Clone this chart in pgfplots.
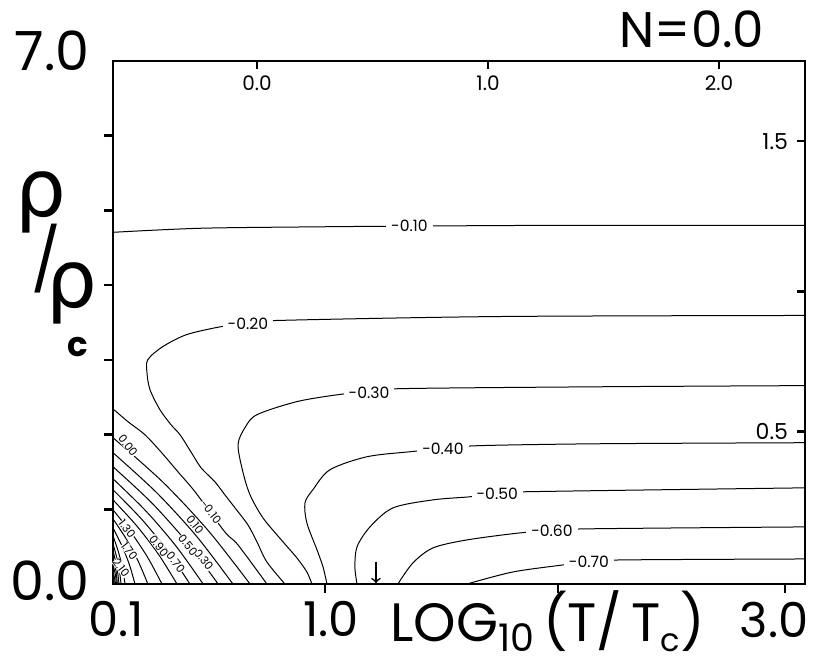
\documentclass[border=0pt]{standalone}
\usepackage{fontspec}
\setmainfont{Poppins}
\newfontfamily\greekfont{DejaVu Sans}
\usepackage{pgfplots}
\pgfplotsset{compat=1.18}

\tikzset{
  cl/.style={black, line width=0.5pt, smooth, tension=0.5},
  lbl/.style={font=\fontsize{7.8}{9}\selectfont, fill=white, inner xsep=2.5pt, inner ysep=0.5pt},
  sl/.style={font=\fontsize{5.6}{6}\selectfont, fill=white, inner sep=0.1pt, rotate=-52},
}

\begin{document}
\begin{tikzpicture}
\pgfplotsset{
  frame/.style={width=346pt, height=261.5pt, scale only axis,
    xmin=-0.623, xmax=2.372, ymin=0, ymax=7, clip=false},
}
% main box: contours, bottom/left ticks
\begin{axis}[frame,
  axis line style={line width=0.8pt},
  xtick={0.294,1.303,2.286}, xticklabels={},
  ytick={1,2,3,4,5,6}, yticklabels={},
  tick pos=left, tick align=outside,
  major tick length=4.5pt,
  tick style={line width=1.3pt, black},
]
\coordinate (SW) at (rel axis cs:0,0);
\coordinate (NE) at (rel axis cs:1,1);

% upper contours
\addplot[cl] coordinates {(-0.623,4.707) (-0.247,4.761) (0.25,4.78) (0.66,4.79) (1.3,4.80) (2.372,4.801)};
\addplot[cl] coordinates {(2.372,3.594) (1.052,3.580) (0.087,3.527) (-0.039,3.49) (-0.152,3.446) (-0.303,3.339) (-0.407,3.178) (-0.472,3.004) (-0.476,2.830) (-0.463,2.602) (-0.420,2.333) (-0.372,2.132) (-0.333,1.998) (-0.286,1.770) (-0.242,1.556) (-0.182,1.368) (-0.139,1.194) (-0.095,1.019) (-0.039,0.791) (0,0.563) (0.043,0.295) (0.121,0)};
\addplot[cl] coordinates {(2.372,2.655) (1.5,2.64) (0.632,2.615) (0.485,2.575) (0.351,2.534) (0.173,2.441) (0,2.266) (-0.052,2.092) (-0.082,1.864) (-0.061,1.502) (-0.030,1.194) (0.026,0.885) (0.113,0.563) (0.173,0.349) (0.216,0.161) (0.238,0)};
\addplot[cl] coordinates {(2.372,1.891) (1.485,1.877) (0.957,1.851) (0.805,1.81) (0.662,1.770) (0.476,1.703) (0.316,1.529) (0.242,1.261) (0.208,1.086) (0.216,0.818) (0.260,0.456) (0.286,0.228) (0.303,0)};
\addplot[cl] coordinates {(2.372,1.287) (1.152,1.234) (1.04,1.207) (0.922,1.167) (0.762,1.126) (0.589,1.019) (0.489,0.764) (0.433,0.496) (0.424,0.228) (0.433,0)};
\addplot[cl] coordinates {(2.372,0.764) (1.429,0.738) (1.277,0.711) (1.139,0.684) (0.909,0.590) (0.762,0.483) (0.675,0.282) (0.610,0)};
\addplot[cl] coordinates {(2.372,0.335) (1.580,0.322) (1.437,0.295) (1.325,0.255) (1.108,0.161) (0.909,0)};

% lower-left family
\addplot[cl] coordinates {(-0.619,2.333) (-0.558,2.172) (-0.485,1.998) (-0.416,1.770) (-0.342,1.502) (-0.268,1.234) (-0.139,0.697) (-0.082,0.523) (0.043,0)};
\addplot[cl] coordinates {(-0.623,1.958) (-0.406,1.360) (-0.209,0.708) (-0.030,0)};
\addplot[cl] coordinates {(-0.623,1.757) (-0.433,1.219) (-0.260,0.634) (-0.104,0)};
\addplot[cl] coordinates {(-0.623,1.569) (-0.456,1.088) (-0.305,0.565) (-0.168,0)};
\addplot[cl] coordinates {(-0.623,1.408) (-0.480,0.975) (-0.350,0.506) (-0.233,0)};
\addplot[cl] coordinates {(-0.623,1.261) (-0.500,0.871) (-0.389,0.451) (-0.290,0)};
\addplot[cl] coordinates {(-0.623,1.126) (-0.520,0.777) (-0.427,0.401) (-0.346,0)};
\addplot[cl] coordinates {(-0.623,0.992) (-0.543,0.681) (-0.472,0.351) (-0.411,0)};
\addplot[cl] coordinates {(-0.623,0.872) (-0.564,0.595) (-0.514,0.305) (-0.472,0)};
\addplot[cl] coordinates {(-0.623,0.751) (-0.584,0.509) (-0.552,0.259) (-0.528,0)};
\addplot[cl] coordinates {(-0.623,0.644) (-0.600,0.434) (-0.582,0.219) (-0.571,0)};
\addplot[cl] coordinates {(-0.623,0.536) (-0.600,0.271) (-0.588,0)};
\addplot[cl] coordinates {(-0.623,0.443) (-0.606,0.224) (-0.597,0)};
\addplot[cl] coordinates {(-0.623,0.349) (-0.610,0.176) (-0.604,0)};
\addplot[cl] coordinates {(-0.623,0.255) (-0.613,0.129) (-0.608,0)};
\addplot[cl] coordinates {(-0.623,0.174) (-0.617,0.088) (-0.612,0)};
\addplot[cl] coordinates {(-0.623,0.094) (-0.619,0.047) (-0.617,0)};

% contour labels
\node[lbl] at (axis cs:0.66,4.79) {-0.10};
\node[lbl] at (axis cs:-0.039,3.487) {-0.20};
\node[lbl] at (axis cs:0.485,2.56) {-0.30};
\node[lbl] at (axis cs:0.805,1.81) {-0.40};
\node[lbl] at (axis cs:1.04,1.207) {-0.50};
\node[lbl] at (axis cs:1.277,0.711) {-0.60};
\node[lbl] at (axis cs:1.437,0.295) {-0.70};
\node[sl] at (axis cs:-0.558,1.851) {0.00};
\node[sl] at (axis cs:-0.199,0.966) {-0.10};
\node[sl] at (axis cs:-0.268,0.791) {0.10};
\node[sl] at (axis cs:-0.230,0.322) {0.30};
\node[sl] at (axis cs:-0.299,0.523) {0.50};
\node[sl] at (axis cs:-0.351,0.290) {0.70};
\node[sl] at (axis cs:-0.425,0.510) {0.90};
\node[sl] at (axis cs:-0.562,0.735) {1.30};
\node[sl] at (axis cs:-0.552,0.440) {1.70};
\node[sl] at (axis cs:-0.588,0.215) {2.10};

\draw[->, line width=0.8pt] (axis cs:0.515,0.30) -- (axis cs:0.515,0.012);

% big lettering
\node[font=\fontsize{27}{30}\selectfont] at (axis cs:-0.887,7.134) {7.0};
\node[font=\fontsize{27}{30}\selectfont] at (axis cs:-0.896,0.040) {0.0};
\node[font=\fontsize{24}{28}\selectfont] at (axis cs:-0.610,-0.469) {0.1};
\node[font=\fontsize{24}{28}\selectfont] at (axis cs:0.320,-0.469) {1.0};
\node[font=\fontsize{24}{28}\selectfont] at (axis cs:2.238,-0.483) {3.0};
\node[anchor=base west, inner sep=0, font=\fontsize{27}{30}\selectfont] at (axis cs:0.576,-0.765)
  {LOG\raisebox{-5pt}{\fontsize{19}{20}\selectfont 10}\,(T/\,T\raisebox{-5pt}{\fontsize{16}{16}\selectfont c})};
\node[font=\fontsize{25}{28}\selectfont] at (axis cs:1.883,7.429) {N=0.0};
\node[anchor=base west, inner sep=0, font=\greekfont\fontsize{40}{42}\selectfont] at (axis cs:-1.048,4.922) {ρ};
\node[inner sep=0, font=\fontsize{31}{34}\selectfont] at (axis cs:-0.912,4.36) {/};
\node[anchor=base west, inner sep=0, font=\greekfont\fontsize{40}{42}\selectfont] at (axis cs:-0.913,3.701) {ρ};
\node[anchor=base west, inner sep=0, font=\fontsize{17}{20}\selectfont\bfseries] at (axis cs:-0.823,3.044) {c};
\end{axis}

% top and right scales (inside the box)
\begin{axis}[frame,
  axis line style={draw=none},
  xtick={0,1,2}, xticklabels={0.0,1.0,2.0},
  ytick={2.038,3.916,5.927}, yticklabels={0.5,,1.5},
  tick pos=right, xticklabel pos=upper, yticklabel pos=right,
  tick align=inside, major tick length=4pt,
  tick style={line width=1.3pt, black},
  xticklabel style={anchor=north, yshift=-4pt, font=\fontsize{10}{12}\selectfont},
  yticklabel style={anchor=east, xshift=-5pt, font=\fontsize{11}{13}\selectfont},
]
\end{axis}

\pgfresetboundingbox
\useasboundingbox ([shift={(-56.5pt,-40.5pt)}]SW) rectangle ([shift={(11pt,30.5pt)}]NE);
\end{tikzpicture}
\end{document}
